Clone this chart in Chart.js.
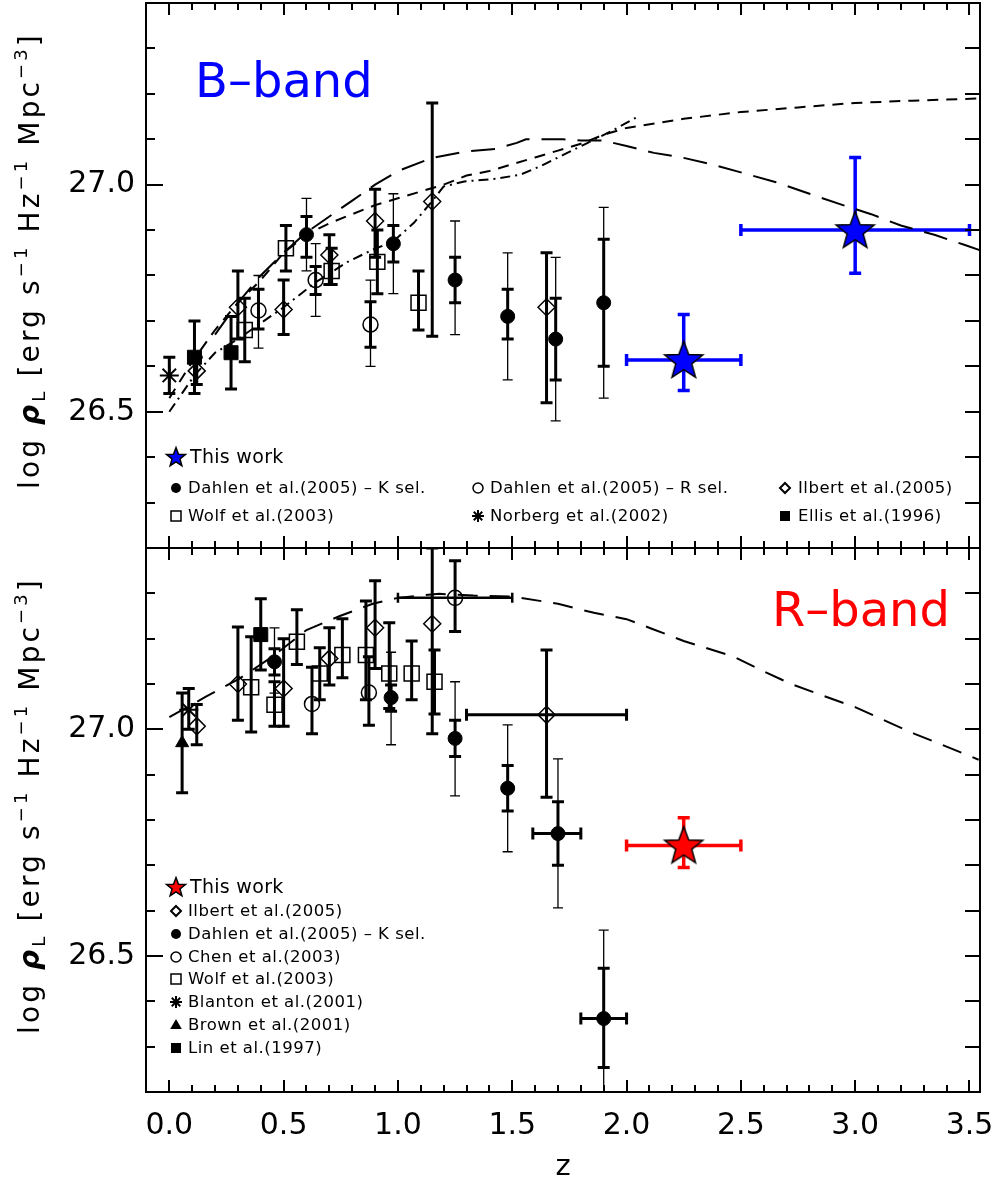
<!DOCTYPE html>
<html><head><meta charset="utf-8">
<script src="https://cdn.jsdelivr.net/npm/chart.js@4.4.0/dist/chart.umd.min.js"></script>
<style>
html,body{margin:0;padding:0;background:#fff;}
#wrap{position:relative;width:996px;height:1182px;overflow:hidden;background:#fff;}
#cTop{position:absolute;left:0;top:0;}
#cBot{position:absolute;left:0;top:546px;}
</style></head><body>
<div id="wrap">
<canvas id="cTop" width="996" height="551" style="width:996px;height:551px"></canvas>
<canvas id="cBot" width="996" height="636" style="width:996px;height:636px"></canvas>
</div>
<script>
// ---------------- axes / ticks ----------------
const Z_MIN = -0.102, Z_MAX = 3.546;
const Y_MIN = 26.2, Y_MAX = 27.4;
const zMajorTicks = [0.0, 0.5, 1.0, 1.5, 2.0, 2.5, 3.0, 3.5];
const yMajorTicks = [26.5, 27.0];

// ---------------- B-band (top) data ----------------
const bNorbergZ = [0.00], bNorbergV = [26.58], bNorbergLo = [26.54], bNorbergHi = [26.62];
const bEllisZ = [0.11, 0.27], bEllisV = [26.62, 26.63], bEllisLo = [26.54, 26.55], bEllisHi = [26.70, 26.71];
const bIlbertZ  = [0.12, 0.30, 0.50, 0.70, 0.90, 1.15, 1.65];
const bIlbertV  = [26.59, 26.73, 26.725, 26.845, 26.92, 26.963, 26.73];
const bIlbertLo = [26.56, 26.66, 26.67, 26.78, 26.84, 26.666, 26.52];
const bIlbertHi = [26.62, 26.81, 26.79, 26.89, 26.99, 27.18, 26.85];
const bWolfZ  = [0.33, 0.51, 0.71, 0.91, 1.09];
const bWolfV  = [26.68, 26.86, 26.81, 26.83, 26.74];
const bWolfLo = [26.61, 26.81, 26.78, 26.76, 26.68];
const bWolfHi = [26.75, 26.91, 26.86, 26.90, 26.81];
const bDahlenKZ = [0.60, 0.98, 1.25, 1.48, 1.69, 1.90];
const bDahlenKV = [26.89, 26.87, 26.79, 26.71, 26.66, 26.74];
const bDahlenKThickLo = [26.84, 26.83, 26.74, 26.66, 26.57, 26.60];
const bDahlenKThickHi = [26.93, 26.91, 26.84, 26.77, 26.75, 26.88];
const bDahlenKThinLo  = [26.81, 26.76, 26.67, 26.57, 26.48, 26.53];
const bDahlenKThinHi  = [26.97, 26.98, 26.92, 26.85, 26.84, 26.95];
const bDahlenRZ = [0.39, 0.64, 0.88];
const bDahlenRV = [26.723, 26.79, 26.692];
const bDahlenRThickLo = [26.682, 26.758, 26.642];
const bDahlenRThickHi = [26.77, 26.82, 26.742];
const bDahlenRThinLo  = [26.64, 26.71, 26.60];
const bDahlenRThinHi  = [26.80, 26.87, 26.79];
const bThisZ = [2.25, 3.0], bThisV = [26.614, 26.90];
const bThisLo = [26.547, 26.805], bThisHi = [26.714, 27.06];
const bThisZLo = [2.0, 2.5], bThisZHi = [2.5, 3.5];
// model curves (B)
const bShortZ = [0.0,0.1,0.2,0.3,0.4,0.5,0.6,0.7,0.8,0.9,1.0,1.1,1.2,1.3,1.4,1.5,1.6,1.7,1.8,1.9,2.0,2.25,2.5,2.75,3.0,3.25,3.55];
const bShortV = [26.53,26.61,26.68,26.74,26.79,26.85,26.89,26.915,26.935,26.955,26.97,26.985,27.0,27.02,27.03,27.045,27.06,27.075,27.09,27.11,27.125,27.145,27.16,27.17,27.18,27.185,27.19];
const bLongZ = [0.2,0.3,0.4,0.5,0.6,0.7,0.8,0.9,1.0,1.15,1.3,1.43,1.52,1.56,1.72,1.8,1.9,2.0,2.12,2.25,2.37,2.5,2.65,2.8,2.94,3.07,3.2,3.35,3.48,3.55];
const bLongV = [26.67,26.74,26.80,26.85,26.895,26.93,26.965,27.0,27.03,27.059,27.073,27.079,27.092,27.10,27.10,27.097,27.097,27.085,27.07,27.059,27.045,27.027,27.006,26.98,26.956,26.935,26.91,26.889,26.867,26.855];
const bDotDashZ = [0.0,0.11,0.2,0.3,0.4,0.5,0.64,0.78,0.89,0.98,1.07,1.155,1.2,1.29,1.43,1.535,1.62,1.725,1.83,1.93,2.05];
const bDotDashV = [26.50,26.58,26.63,26.66,26.695,26.73,26.785,26.83,26.857,26.875,26.916,26.967,26.996,27.007,27.013,27.022,27.04,27.066,27.092,27.117,27.15];

// ---------------- R-band (bottom) data ----------------
const rIlbertZ  = [0.12, 0.30, 0.50, 0.70, 0.90, 1.15, 1.65];
const rIlbertV  = [27.007, 27.10, 27.09, 27.156, 27.224, 27.233, 27.032];
const rIlbertLo = [26.966, 27.02, 27.007, 27.098, 27.134, 26.99, 26.85];
const rIlbertHi = [27.055, 27.226, 27.20, 27.224, 27.328, 27.40, 27.175];
const rIlbertZLo = [null, null, null, null, null, null, 1.30];
const rIlbertZHi = [null, null, null, null, null, null, 2.00];
const rDahlenKZ = [0.46, 0.97, 1.25, 1.48, 1.70, 1.90];
const rDahlenKV = [27.149, 27.07, 26.98, 26.87, 26.77, 26.362];
const rDahlenKThickLo = [27.12, 27.04, 26.94, 26.82, 26.70, 26.254];
const rDahlenKThickHi = [27.178, 27.098, 27.02, 26.92, 26.84, 26.473];
const rDahlenKThinLo  = [27.08, 26.966, 26.853, 26.73, 26.606, 26.15];
const rDahlenKThinHi  = [27.224, 27.17, 27.105, 27.01, 26.935, 26.557];
const rDahlenKZLo = [null, null, null, null, 1.59, 1.80];
const rDahlenKZHi = [null, null, null, null, 1.80, 2.00];
const rChenZ  = [0.624, 0.873, 1.25];
const rChenV  = [27.056, 27.081, 27.29];
const rChenLo = [26.99, 27.009, 27.216];
const rChenHi = [27.137, 27.16, 27.372];
const rChenZLo = [null, null, 1.0], rChenZHi = [null, null, 1.5];
const rWolfZ  = [0.358, 0.46, 0.558, 0.658, 0.757, 0.86, 0.962, 1.06, 1.16];
const rWolfV  = [27.093, 27.054, 27.193, 27.123, 27.164, 27.164, 27.123, 27.123, 27.105];
const rWolfLo = [26.994, 27.007, 27.143, 27.065, 27.114, 27.065, 27.046, 27.065, 27.034];
const rWolfHi = [27.204, 27.105, 27.264, 27.18, 27.244, 27.283, 27.235, 27.195, 27.175];
const rBlantonZ = [0.085], rBlantonV = [27.043], rBlantonLo = [27.0], rBlantonHi = [27.09];
const rBrownZ = [0.056], rBrownV = [26.97], rBrownLo = [26.86], rBrownHi = [27.08];
const rLinZ = [0.40], rLinV = [27.209], rLinLo = [27.131], rLinHi = [27.288];
const rThisZ = [2.25], rThisV = [26.744], rThisLo = [26.695], rThisHi = [26.805];
const rThisZLo = [2.0], rThisZHi = [2.5];
const rModelZ = [0.0,0.16,0.307,0.45,0.6,0.746,0.89,1.0,1.18,1.33,1.5,1.7,1.857,2.0,2.11,2.25,2.47,2.59,2.72,2.85,3.0,3.14,3.26,3.38,3.54];
const rModelV = [27.027,27.072,27.112,27.16,27.219,27.25,27.277,27.29,27.299,27.295,27.293,27.277,27.257,27.243,27.222,27.195,27.16,27.13,27.10,27.076,27.049,27.017,26.99,26.966,26.933];

// ---------------- legend texts ----------------
const topLegend = [
  {kind:'starB', x:176, y:457, tx:190, text:'This work', big:true},
  {kind:'circleF', x:176, y:488, tx:188, text:'Dahlen et al.(2005) \u2013 K sel.'},
  {kind:'circleO', x:478, y:488, tx:490, text:'Dahlen et al.(2005) \u2013 R sel.'},
  {kind:'diamond', x:785, y:488, tx:798, text:'Ilbert et al.(2005)'},
  {kind:'squareO', x:176, y:516, tx:188, text:'Wolf et al.(2003)'},
  {kind:'asterisk', x:478, y:516, tx:490, text:'Norberg et al.(2002)'},
  {kind:'squareF', x:785, y:516, tx:798, text:'Ellis et al.(1996)'}
];
const botLegend = [
  {kind:'starR', x:176, y:887, tx:190, text:'This work', big:true},
  {kind:'diamond', x:176, y:911, tx:188, text:'Ilbert et al.(2005)'},
  {kind:'circleF', x:176, y:934, tx:188, text:'Dahlen et al.(2005) \u2013 K sel.'},
  {kind:'circleO', x:176, y:957, tx:188, text:'Chen et al.(2003)'},
  {kind:'squareO', x:176, y:979, tx:188, text:'Wolf et al.(2003)'},
  {kind:'asterisk', x:176, y:1002, tx:188, text:'Blanton et al.(2001)'},
  {kind:'triangle', x:176, y:1025, tx:188, text:'Brown et al.(2001)'},
  {kind:'squareF', x:176, y:1048, tx:188, text:'Lin et al.(1997)'}
];

// ---------------- helpers ----------------
const FONT = '"DejaVu Sans", "Liberation Sans", sans-serif';
const NONE = 'rgba(0,0,0,0)';
function makeStar(R, fill){
  const lw = 1.5, s = Math.ceil(2*R + 4);
  const c = document.createElement('canvas'); c.width = s; c.height = s;
  const g = c.getContext('2d'); const cx = s/2, cy = s/2 + R*0.06; const r = R*0.42;
  g.beginPath();
  for (let i=0;i<10;i++){ const a = -Math.PI/2 + i*Math.PI/5; const rr = i%2 ? r : R; g.lineTo(cx+rr*Math.cos(a), cy+rr*Math.sin(a)); }
  g.closePath(); g.fillStyle = fill; g.fill(); g.lineWidth = lw; g.strokeStyle = '#000'; g.lineJoin='miter'; g.stroke();
  return c;
}
const starBlue = makeStar(20, '#0000ff'), starRed = makeStar(20, '#ff0000');
const starBlueS = makeStar(10, '#0000ff'), starRedS = makeStar(10, '#ff0000');

function pts(zs, vs){ return zs.map((z,i)=>({x:z, y:vs[i]})); }
function series(zs, vs, style, r, filled, extra){
  return Object.assign({
    data: pts(zs, vs), showLine:false, pointStyle:style, pointRadius:r, pointHoverRadius:r,
    pointBackgroundColor: filled ? '#000' : NONE, pointBorderColor:'#000',
    pointBorderWidth: filled ? 1 : 1.5, order:1
  }, extra || {});
}
function curve(zs, vs, dash){
  return {data: pts(zs, vs), showLine:true, pointRadius:0, pointHoverRadius:0, borderColor:'#000',
          borderWidth:2, borderDash:dash, fill:false, tension:0, order:5};
}
const TH = (lo,hi)=>({lo, hi, w:3, cap:6});
const TN = (lo,hi)=>({lo, hi, w:1.3, cap:5});

// ---------------- plugins ----------------
const errPlugin = {
  id:'errbars',
  beforeDatasetsDraw(chart){
    const {ctx, chartArea:a, scales:{x, y}} = chart;
    ctx.save();
    ctx.beginPath(); ctx.rect(a.left, a.top, a.right-a.left, a.bottom-a.top); ctx.clip();
    ctx.lineCap = 'butt';
    chart.data.datasets.forEach(ds=>{
      ctx.strokeStyle = ds.errColor || '#000';
      (ds.errY || []).forEach(e=>{
        ctx.lineWidth = e.w;
        ds.data.forEach((p,i)=>{
          if (e.lo[i] == null) return;
          const px = x.getPixelForValue(p.x), pl = y.getPixelForValue(e.lo[i]), ph = y.getPixelForValue(e.hi[i]);
          ctx.beginPath();
          ctx.moveTo(px, pl); ctx.lineTo(px, ph);
          ctx.moveTo(px-e.cap, pl); ctx.lineTo(px+e.cap, pl);
          ctx.moveTo(px-e.cap, ph); ctx.lineTo(px+e.cap, ph);
          ctx.stroke();
        });
      });
      if (ds.errX){
        const e = ds.errX; ctx.lineWidth = e.w;
        ds.data.forEach((p,i)=>{
          if (e.lo[i] == null) return;
          const py = y.getPixelForValue(p.y), xl = x.getPixelForValue(e.lo[i]), xh = x.getPixelForValue(e.hi[i]);
          ctx.beginPath();
          ctx.moveTo(xl, py); ctx.lineTo(xh, py);
          ctx.moveTo(xl, py-e.cap); ctx.lineTo(xl, py+e.cap);
          ctx.moveTo(xh, py-e.cap); ctx.lineTo(xh, py+e.cap);
          ctx.stroke();
        });
      }
    });
    ctx.restore();
  }
};

const framePlugin = {
  id:'frame',
  afterDatasetsDraw(chart){
    const {ctx, chartArea:a, scales:{x, y}} = chart;
    ctx.save(); ctx.strokeStyle = '#000'; ctx.lineWidth = 2; ctx.lineCap='butt';
    ctx.strokeRect(a.left, a.top, a.right-a.left, a.bottom-a.top);
    ctx.beginPath();
    for (let k=0; k<=35; k++){
      const z = k/10; const px = Math.round(x.getPixelForValue(z));
      const L = (k%5===0) ? 12 : 7;
      ctx.moveTo(px, a.bottom); ctx.lineTo(px, a.bottom-L);
      ctx.moveTo(px, a.top); ctx.lineTo(px, a.top+L);
    }
    for (let k=1; k<12; k++){
      const v = Y_MIN + k/10; const py = Math.round(y.getPixelForValue(v));
      const major = yMajorTicks.some(t=>Math.abs(t-v)<1e-6);
      ctx.moveTo(a.left, py); ctx.lineTo(a.left + (major ? 17 : 9), py);
      ctx.moveTo(a.right, py); ctx.lineTo(a.right - 15, py);
    }
    ctx.stroke();
    ctx.restore();
  }
};

function drawLegendMarker(ctx, kind, x, y){
  ctx.save(); ctx.strokeStyle='#000'; ctx.fillStyle='#000'; ctx.lineWidth=1.5;
  ctx.beginPath();
  const s = 5;
  switch(kind){
    case 'circleF': ctx.arc(x,y,s,0,2*Math.PI); ctx.fill(); break;
    case 'circleO': ctx.arc(x,y,s,0,2*Math.PI); ctx.stroke(); break;
    case 'squareO': ctx.rect(x-s,y-s,2*s,2*s); ctx.stroke(); break;
    case 'squareF': ctx.rect(x-s,y-s,2*s,2*s); ctx.fill(); break;
    case 'diamond': ctx.moveTo(x,y-s); ctx.lineTo(x+s,y); ctx.lineTo(x,y+s); ctx.lineTo(x-s,y); ctx.closePath(); ctx.lineWidth=2; ctx.stroke(); break;
    case 'triangle': ctx.moveTo(x,y-s-1); ctx.lineTo(x+s+0.8,y+s-1); ctx.lineTo(x-s-0.8,y+s-1); ctx.closePath(); ctx.fill(); break;
    case 'asterisk': ctx.lineWidth=2;
      for (let i=0;i<4;i++){ const a=i*Math.PI/4; const r=s+1; ctx.moveTo(x-r*Math.cos(a), y-r*Math.sin(a)); ctx.lineTo(x+r*Math.cos(a), y+r*Math.sin(a)); }
      ctx.stroke(); break;
    case 'starB': ctx.drawImage(starBlueS, x-starBlueS.width/2, y-starBlueS.height/2); break;
    case 'starR': ctx.drawImage(starRedS, x-starRedS.width/2, y-starRedS.height/2); break;
  }
  ctx.restore();
}

function drawYTitle(ctx, cx, cy, target){
  const base = 28, small = 18;
  const F = s => s + 'px ' + FONT;
  const parts = [['log ',F(base),0],['\u03c1','bold italic '+F(base),0],['L',F(small),6],
    [' [erg s',F(base),0],['\u22121',F(small),-12],[' Hz',F(base),0],['\u22121',F(small),-12],
    [' Mpc',F(base),0],['\u22123',F(small),-12],[']',F(base),0]];
  ctx.save();
  ctx.translate(cx, cy); ctx.rotate(-Math.PI/2);
  ctx.fillStyle = '#000'; ctx.textBaseline = 'alphabetic'; ctx.textAlign = 'left';
  ctx.letterSpacing = '0px';
  let w0 = 0, n = 0;
  parts.forEach(p=>{ ctx.font = p[1]; w0 += ctx.measureText(p[0]).width; n += [...p[0]].length; });
  const ls = Math.max(0, Math.min(6, (target - w0)/n));
  ctx.letterSpacing = ls.toFixed(2) + 'px';
  let x = -target/2;
  parts.forEach(p=>{ ctx.font = p[1]; ctx.fillText(p[0], x, p[2]); x += ctx.measureText(p[0]).width; });
  ctx.restore();
}

function decorPlugin(opt){
  return {
    id:'decor',
    afterDraw(chart){
      const ctx = chart.ctx, off = opt.offset;
      ctx.save();
      ctx.font = '48px ' + FONT; ctx.fillStyle = opt.bandColor; ctx.textBaseline = 'alphabetic';
      ctx.textAlign = opt.bandAlign;
      ctx.fillText(opt.band, opt.bandX, opt.bandY - off);
      ctx.restore();
      opt.legend.forEach(it=>{
        drawLegendMarker(ctx, it.kind, it.x, it.y - off);
        ctx.save();
        ctx.fillStyle = '#000'; ctx.textBaseline = 'middle'; ctx.textAlign = 'left';
        if (it.big){ ctx.font = '19px ' + FONT; ctx.letterSpacing = '0.3px'; }
        else { ctx.font = '16.5px ' + FONT; ctx.letterSpacing = '0.5px'; }
        ctx.fillText(it.text, it.tx, it.y - off + 1);
        ctx.restore();
      });
      drawYTitle(ctx, 39, chart.chartArea.top + 257.5, 457);
    }
  };
}

function makeChart(id, datasets, opt){
  return new Chart(document.getElementById(id), {
    type:'scatter',
    data:{datasets},
    options:{
      responsive:false, animation:false, devicePixelRatio:1, events:[],
      layout:{autoPadding:false, padding:{top:opt.padTop, right:16, bottom:opt.padBottom, left:0}},
      plugins:{legend:{display:false}, tooltip:{enabled:false}},
      scales:{
        x:{
          type:'linear', min:Z_MIN, max:Z_MAX, display:opt.showX,
          afterBuildTicks: s => { s.ticks = zMajorTicks.map(v=>({value:v})); },
          afterFit: s => { s.height = opt.showX ? 90 : 0; s.paddingLeft = 0; s.paddingRight = 0; s.paddingTop = 0; s.paddingBottom = 0; },
          ticks:{callback: v => Number(v).toFixed(1), font:{family:FONT, size:30}, color:'#000', padding:16, maxRotation:0, autoSkip:false},
          grid:{display:false, drawTicks:false}, border:{display:false},
          title:{display:opt.showX, text:'z', font:{family:FONT, size:29}, color:'#000', padding:{top:0, bottom:-3}}
        },
        y:{
          type:'linear', min:Y_MIN, max:Y_MAX,
          afterBuildTicks: s => { s.ticks = yMajorTicks.map(v=>({value:v})); },
          afterFit: s => { s.width = 146; s.paddingLeft = 0; s.paddingRight = 0; s.paddingTop = 0; s.paddingBottom = 0; },
          ticks:{callback: v => Number(v).toFixed(1), font:{family:FONT, size:30}, color:'#000', padding:11},
          grid:{display:false, drawTicks:false}, border:{display:false}
        }
      }
    },
    plugins:[errPlugin, framePlugin, decorPlugin(opt)]
  });
}

// ---------------- top panel ----------------
const topSets = [
  series(bThisZ, bThisV, starBlue, 20, true, {order:0, errColor:'#0000ff',
    errY:[{lo:bThisLo, hi:bThisHi, w:3.5, cap:6}], errX:{lo:bThisZLo, hi:bThisZHi, w:3.5, cap:6}}),
  series(bNorbergZ, bNorbergV, 'star', 9.5, true, {pointBorderWidth:2, errY:[TH(bNorbergLo, bNorbergHi)]}),
  series(bEllisZ, bEllisV, 'rect', 9.9, true, {errY:[TH(bEllisLo, bEllisHi)]}),
  series(bIlbertZ, bIlbertV, 'rectRot', 8.5, false, {errY:[TH(bIlbertLo, bIlbertHi)]}),
  series(bWolfZ, bWolfV, 'rect', 10.6, false, {errY:[TH(bWolfLo, bWolfHi)]}),
  series(bDahlenKZ, bDahlenKV, 'circle', 7, true, {errY:[TN(bDahlenKThinLo, bDahlenKThinHi), TH(bDahlenKThickLo, bDahlenKThickHi)]}),
  series(bDahlenRZ, bDahlenRV, 'circle', 7.5, false, {errY:[TN(bDahlenRThinLo, bDahlenRThinHi), TH(bDahlenRThickLo, bDahlenRThickHi)]}),
  curve(bShortZ, bShortV, [11, 8]),
  curve(bLongZ, bLongV, [24, 12]),
  curve(bDotDashZ, bDotDashV, [10, 5, 2, 5])
];
makeChart('cTop', topSets, {padTop:3, padBottom:3, showX:false, offset:0,
  band:'B\u2013band', bandColor:'#0000ff', bandAlign:'left', bandX:195, bandY:97, legend:topLegend});

// ---------------- bottom panel ----------------
const botSets = [
  series(rThisZ, rThisV, starRed, 20, true, {order:0, errColor:'#ff0000',
    errY:[{lo:rThisLo, hi:rThisHi, w:3.5, cap:6}], errX:{lo:rThisZLo, hi:rThisZHi, w:3.5, cap:6}}),
  series(rIlbertZ, rIlbertV, 'rectRot', 8.5, false, {errY:[TH(rIlbertLo, rIlbertHi)], errX:{lo:rIlbertZLo, hi:rIlbertZHi, w:3, cap:6}}),
  series(rDahlenKZ, rDahlenKV, 'circle', 7, true, {errY:[TN(rDahlenKThinLo, rDahlenKThinHi), TH(rDahlenKThickLo, rDahlenKThickHi)], errX:{lo:rDahlenKZLo, hi:rDahlenKZHi, w:3, cap:6}}),
  series(rChenZ, rChenV, 'circle', 7.5, false, {errY:[TH(rChenLo, rChenHi)], errX:{lo:rChenZLo, hi:rChenZHi, w:2.5, cap:5}}),
  series(rWolfZ, rWolfV, 'rect', 10.6, false, {errY:[TH(rWolfLo, rWolfHi)]}),
  series(rBlantonZ, rBlantonV, 'star', 9.5, true, {pointBorderWidth:2, errY:[TH(rBlantonLo, rBlantonHi)]}),
  series(rBrownZ, rBrownV, 'triangle', 7.5, true, {errY:[TH(rBrownLo, rBrownHi)]}),
  series(rLinZ, rLinV, 'rect', 9.9, true, {errY:[TH(rLinLo, rLinHi)]}),
  curve(rModelZ, rModelV, [20, 12])
];
makeChart('cBot', botSets, {padTop:2, padBottom:0, showX:true, offset:546,
  band:'R\u2013band', bandColor:'#ff0000', bandAlign:'right', bandX:950, bandY:626, legend:botLegend});
</script>
</body></html>
